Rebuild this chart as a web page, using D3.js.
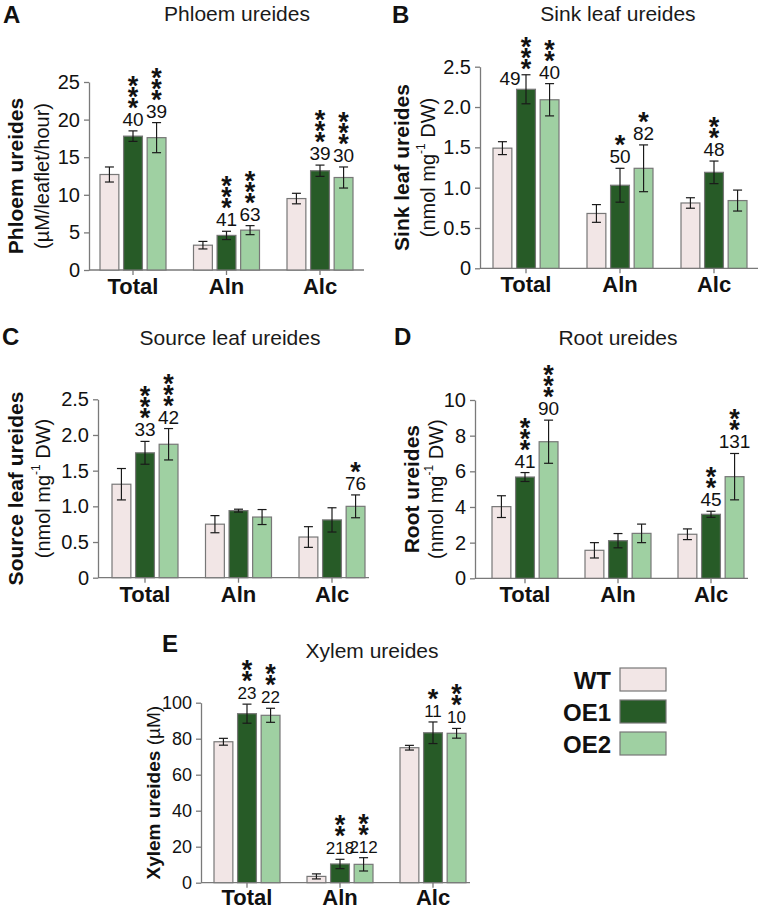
<!DOCTYPE html>
<html>
<head>
<meta charset="utf-8">
<script src="https://cdn.jsdelivr.net/npm/d3@7"></script>
<style>
  html, body { margin: 0; padding: 0; background: #fff; }
  svg { display: block; font-family: "Liberation Sans", Arial, sans-serif; }
</style>
</head>
<body>
<svg id="chart" width="758" height="910"></svg>
<script>
// ---------- DATA ----------
const categories = ["Total", "Aln", "Alc"];
const series = ["WT", "OE1", "OE2"];
const seriesColors = ["#f2e6e6", "#275b27", "#9fd0a2"];

// rows = categories (Total, Aln, Alc); columns = series (WT, OE1, OE2)
const phloemMeans = [[12.7, 17.8, 17.6], [3.3, 4.6, 5.3], [9.5, 13.2, 12.3]];
const phloemErrs  = [[1.0, 0.7, 2.0], [0.5, 0.55, 0.6], [0.7, 0.75, 1.4]];
const phloemNums  = [["", "40", "39"], ["", "41", "63"], ["", "39", "30"]];
const phloemStars = [[0, 3, 3], [0, 3, 3], [0, 3, 3]];
const phloemTicks = [0, 5, 10, 15, 20, 25];

const sinkMeans = [[1.49, 2.22, 2.09], [0.68, 1.03, 1.24], [0.81, 1.19, 0.84]];
const sinkErrs  = [[0.08, 0.18, 0.2], [0.11, 0.21, 0.29], [0.065, 0.14, 0.13]];
const sinkNums  = [["", "49", "40"], ["", "50", "82"], ["", "48", ""]];
const sinkStars = [[0, 3, 2], [0, 1, 1], [0, 2, 0]];
const sinkSideLabels = [["", "left", ""], ["", "", ""], ["", "", ""]];
const sinkTicks = [0, 0.5, 1.0, 1.5, 2.0, 2.5];

const sourceMeans = [[1.31, 1.75, 1.87], [0.75, 0.94, 0.85], [0.57, 0.81, 1.0]];
const sourceErrs  = [[0.22, 0.16, 0.22], [0.12, 0.02, 0.105], [0.145, 0.17, 0.16]];
const sourceNums  = [["", "33", "42"], ["", "", ""], ["", "", "76"]];
const sourceStars = [[0, 3, 3], [0, 0, 0], [0, 0, 1]];
const sourceTicks = [0, 0.5, 1.0, 1.5, 2.0, 2.5];

const rootMeans = [[4.02, 5.68, 7.66], [1.57, 2.11, 2.52], [2.47, 3.59, 5.7]];
const rootErrs  = [[0.61, 0.25, 1.21], [0.43, 0.4, 0.52], [0.3, 0.17, 1.3]];
const rootNums  = [["", "41", "90"], ["", "", ""], ["", "45", "131"]];
const rootStars = [[0, 3, 3], [0, 0, 0], [0, 2, 2]];
const rootTicks = [0, 2, 4, 6, 8, 10];

const xylemMeans = [[78.3, 93.9, 93.0], [3.5, 10.4, 10.2], [75.0, 83.3, 83.0]];
const xylemErrs  = [[1.9, 5.3, 3.9], [1.4, 2.6, 3.7], [1.3, 6.0, 2.7]];
const xylemNums  = [["", "23", "22"], ["", "218", "212"], ["", "11", "10"]];
const xylemStars = [[0, 2, 2], [0, 2, 2], [0, 1, 2]];
const xylemTicks = [0, 20, 40, 60, 80, 100];

// ---------- DRAWING ----------
const svg = d3.select("#chart");
const fmtDec = d => d === 0 ? "0" : d3.format(".1f")(d);
const fmtInt = d3.format("d");

function drawPanel(c) {
  const g = svg.append("g");
  const y = d3.scaleLinear().domain([0, c.max]).range([c.y0, c.yTop]);
  const x = d3.scalePoint().domain(categories).range([c.firstCenter, c.firstCenter + 2 * c.step]);
  const x1 = d3.scaleBand().domain(series).range([-33, 33]).paddingInner(0.2);
  const bw = x1.bandwidth();

  // letter + title
  g.append("text").attr("x", c.letterX).attr("y", c.letterY)
    .attr("font-size", 24).attr("font-weight", "bold").attr("fill", "#111").text(c.letter);
  g.append("text").attr("x", c.titleX).attr("y", c.titleY).attr("text-anchor", "middle")
    .attr("font-size", 21).attr("fill", "#1a1a1a").text(c.title);

  // y axis
  const yAxis = d3.axisLeft(y).tickValues(c.ticks).tickFormat(c.fmt)
    .tickSize(5).tickSizeOuter(0).tickPadding(4);
  const ya = g.append("g").attr("transform", `translate(${c.axisX},0)`).call(yAxis);
  ya.select(".domain").attr("stroke", "#7a7a7a").attr("stroke-width", 1.3);
  ya.selectAll(".tick line").attr("stroke", "#7a7a7a").attr("stroke-width", 1.3);
  ya.selectAll(".tick text").attr("font-size", c.tickSize).attr("fill", "#111")
    .attr("font-family", "Liberation Sans, Arial, sans-serif");

  // y label
  const midY = (c.y0 + c.yTop) / 2;
  if (c.units) {
    g.append("text").attr("transform", `translate(${c.labelX},${midY}) rotate(-90)`)
      .attr("text-anchor", "middle").attr("dominant-baseline", "central")
      .attr("font-size", 21).attr("font-weight", "bold").attr("fill", "#111").text(c.ylabel);
    const u = g.append("text").attr("transform", `translate(${c.unitsX},${midY}) rotate(-90)`)
      .attr("text-anchor", "middle").attr("dominant-baseline", "central")
      .attr("font-size", 20).attr("fill", "#111");
    if (c.units === "nmol") {
      u.append("tspan").text("(nmol mg");
      u.append("tspan").attr("font-size", 12).attr("dy", -7).text("-1");
      u.append("tspan").attr("dy", 7).text(" DW)");
    } else {
      u.text(c.units);
    }
  } else {
    const t = g.append("text").attr("transform", `translate(${c.labelX},${midY}) rotate(-90)`)
      .attr("text-anchor", "middle").attr("dominant-baseline", "central")
      .attr("font-size", 19).attr("fill", "#111");
    t.append("tspan").attr("font-weight", "bold").text(c.ylabel);
    t.append("tspan").text(" (µM)");
  }

  // x baseline and ticks
  g.append("line").attr("x1", c.axisX).attr("x2", c.xEnd).attr("y1", c.y0).attr("y2", c.y0)
    .attr("stroke", "#7a7a7a").attr("stroke-width", 1.3);
  categories.forEach(cat => {
    g.append("line").attr("x1", x(cat)).attr("x2", x(cat)).attr("y1", c.y0).attr("y2", c.y0 + 5)
      .attr("stroke", "#7a7a7a").attr("stroke-width", 1.3);
    g.append("text").attr("x", x(cat)).attr("y", c.y0 + c.catDy).attr("text-anchor", "middle")
      .attr("font-size", 22).attr("font-weight", "bold").attr("fill", "#111").text(cat);
  });

  // bars, error bars, annotations
  categories.forEach((cat, ci) => {
    series.forEach((s, si) => {
      const m = c.means[ci][si], e = c.errs[ci][si];
      const bx = x(cat) + x1(s);
      const cx = bx + bw / 2;
      g.append("rect").attr("x", bx).attr("y", y(m)).attr("width", bw).attr("height", c.y0 - y(m))
        .attr("fill", seriesColors[si]).attr("stroke", "#777").attr("stroke-width", 1.2);
      const eTop = y(m + e), eBot = y(m - e);
      g.append("line").attr("x1", cx).attr("x2", cx).attr("y1", eTop).attr("y2", eBot)
        .attr("stroke", "#1a1a1a").attr("stroke-width", 1.2);
      [eTop, eBot].forEach(yy => g.append("line").attr("x1", cx - 4.5).attr("x2", cx + 4.5)
        .attr("y1", yy).attr("y2", yy).attr("stroke", "#1a1a1a").attr("stroke-width", 1.2));

      const num = c.nums[ci][si];
      const nStars = c.stars[ci][si];
      if (!num && !nStars) return;
      const side = c.side ? c.side[ci][si] : "";
      // one text element per annotation: number line + stacked asterisks
      const t = g.append("text").attr("text-anchor", "middle").attr("fill", "#111");
      let firstStarY;
      if (side === "left") {
        if (num) g.append("text").attr("x", cx - 16).attr("y", eTop + 10).attr("text-anchor", "middle")
          .attr("font-size", c.numSize).attr("fill", "#111").text(num);
        firstStarY = eTop - 12 + 15;
        t.attr("x", cx).attr("y", firstStarY);
      } else {
        const nb = eTop - 5;
        t.attr("x", cx).attr("y", nb);
        firstStarY = num ? nb - 24 + 15 : eTop - 12 + 15;
      }
      let curY = +t.attr("y");
      if (num && side !== "left") {
        t.append("tspan").attr("x", cx).attr("y", curY).attr("font-size", c.numSize).text(num);
      }
      for (let k = 0; k < nStars; k++) {
        const sy = firstStarY - k * 11;
        t.append("tspan").attr("x", cx).attr("y", sy)
          .attr("font-size", 27).attr("font-weight", "bold").text("*");
      }
    });
  });
}

drawPanel({ letter: "A", title: "Phloem ureides", ylabel: "Phloem ureides", units: "(µM/leaflet/hour)",
  means: phloemMeans, errs: phloemErrs, nums: phloemNums, stars: phloemStars, ticks: phloemTicks,
  max: 25, fmt: fmtInt, axisX: 89, y0: 270, yTop: 82, firstCenter: 133, step: 93.5, xEnd: 364,
  labelX: 15, unitsX: 42, titleX: 237, titleY: 21, letterX: 3, letterY: 23, numSize: 19, tickSize: 20, catDy: 24 });

drawPanel({ letter: "B", title: "Sink leaf ureides", ylabel: "Sink leaf ureides", units: "nmol",
  means: sinkMeans, errs: sinkErrs, nums: sinkNums, stars: sinkStars, side: sinkSideLabels, ticks: sinkTicks,
  max: 2.5, fmt: fmtDec, axisX: 480, y0: 268.3, yTop: 66.7, firstCenter: 526, step: 94, xEnd: 758,
  labelX: 401, unitsX: 428, titleX: 618, titleY: 21, letterX: 392, letterY: 23, numSize: 19, tickSize: 20, catDy: 24 });

drawPanel({ letter: "C", title: "Source leaf ureides", ylabel: "Source leaf ureides", units: "nmol",
  means: sourceMeans, errs: sourceErrs, nums: sourceNums, stars: sourceStars, ticks: sourceTicks,
  max: 2.5, fmt: fmtDec, axisX: 98, y0: 577.7, yTop: 399.3, firstCenter: 145, step: 93.5, xEnd: 369,
  labelX: 15, unitsX: 43, titleX: 230, titleY: 345, letterX: 2, letterY: 345, numSize: 19, tickSize: 20, catDy: 24 });

drawPanel({ letter: "D", title: "Root ureides", ylabel: "Root ureides", units: "nmol",
  means: rootMeans, errs: rootErrs, nums: rootNums, stars: rootStars, ticks: rootTicks,
  max: 10, fmt: fmtInt, axisX: 475, y0: 578.3, yTop: 400, firstCenter: 525, step: 93, xEnd: 748,
  labelX: 411, unitsX: 436, titleX: 618, titleY: 345, letterX: 394, letterY: 345, numSize: 19, tickSize: 20, catDy: 24 });

drawPanel({ letter: "E", title: "Xylem ureides", ylabel: "Xylem ureides", units: null,
  means: xylemMeans, errs: xylemErrs, nums: xylemNums, stars: xylemStars, ticks: xylemTicks,
  max: 100, fmt: fmtInt, axisX: 201, y0: 882.7, yTop: 702.7, firstCenter: 247, step: 93, xEnd: 470,
  labelX: 153, unitsX: 0, titleX: 372, titleY: 658, letterX: 162, letterY: 652, numSize: 17, tickSize: 18, catDy: 22 });

// legend
const leg = svg.append("g");
series.forEach((s, i) => {
  const by = 668 + i * 32;
  leg.append("rect").attr("x", 620).attr("y", by).attr("width", 46).attr("height", 23)
    .attr("fill", seriesColors[i]).attr("stroke", "#777").attr("stroke-width", 1.2);
  leg.append("text").attr("x", 611).attr("y", by + 21).attr("text-anchor", "end")
    .attr("font-size", 24).attr("font-weight", "bold").attr("fill", "#111").text(s);
});
</script>
</body>
</html>
